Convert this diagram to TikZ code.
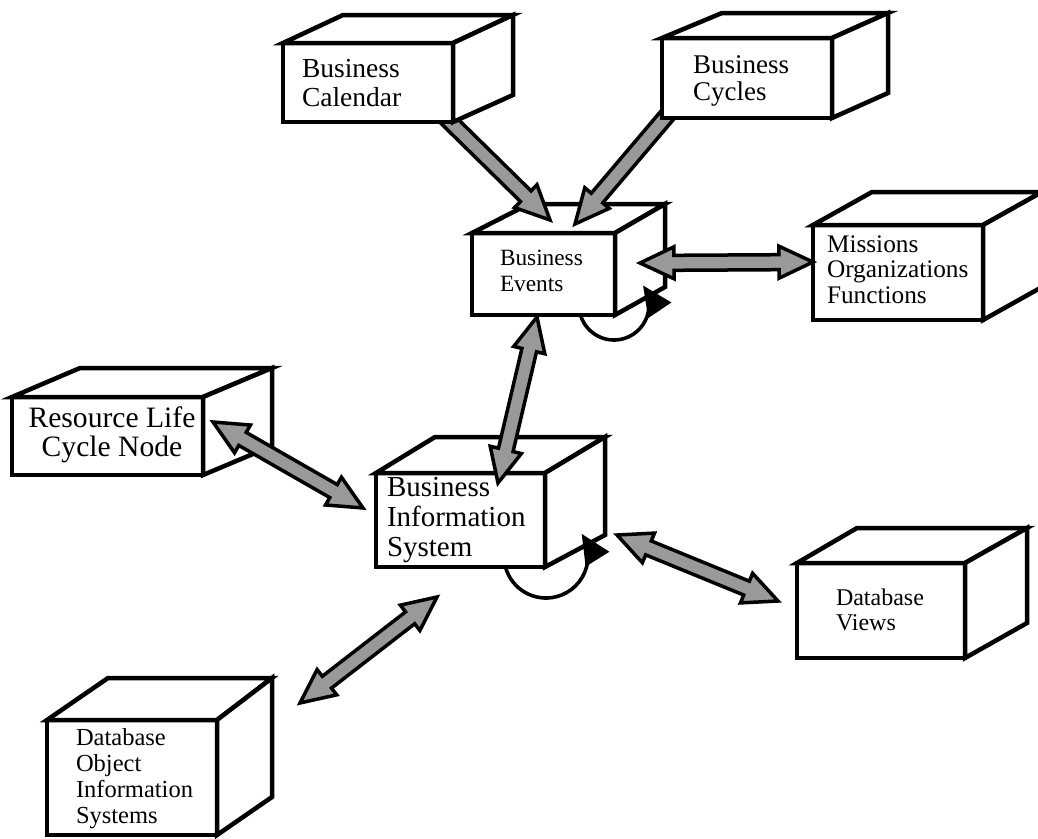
\documentclass[tikz,border=0pt]{standalone}
\usepackage{fontspec}
\setmainfont{Liberation Serif}
\usetikzlibrary{arrows.meta}

\tikzset{
  cubeline/.style={draw=black, fill=white, line width=4.5pt, line join=miter},
  cubefront/.style={cubeline, rectangle, inner sep=0pt, outer sep=0pt},
  fatarrow/.style={draw=black, fill=black!40, line width=3.5pt, line join=miter},
  loopline/.style={line width=3.6pt, -{Triangle[length=30pt,width=27pt]}},
  lbl/.style={inner sep=0pt, outer sep=0pt, anchor=north west, align=left},
}

% 3-D box: name, front top-left (x,y), front bottom-right (x,y),
% back top-left x, back top y, back right x, back bottom y (y measured downwards)
\newcommand{\cube}[9]{%
  \node[cubefront, minimum width={#4pt-#2pt}, minimum height={#5pt-#3pt}]
    (#1) at ({(#2+#4)/2},{-(#3+#5)/2}) {};
  \draw[cubeline] (#1.north west) -- (#6,-#7) -- (#8,-#7) -- (#1.north east) -- cycle;
  \draw[cubeline] (#1.north east) -- (#8,-#7) -- (#8,-#9) -- (#1.south east) -- cycle;
}

% block-arrow geometry: head length, head half width, shaft half width
\def\fhl{34}
\def\fhw{16}
\def\fsw{7.5}

\newcommand{\fatdir}[2]{%
  \path (#1); \pgfgetlastxy{\fax}{\fay}%
  \path (#2); \pgfgetlastxy{\fbx}{\fby}%
  \pgfmathsetmacro{\fang}{atan2(\fby-\fay,\fbx-\fax)}%
  \pgfmathsetmacro{\flen}{veclen(\fbx-\fax,\fby-\fay)}%
}

% double-headed block arrow between two named coordinates
\newcommand{\fatdouble}[2]{%
  \fatdir{#1}{#2}%
  \draw[fatarrow, shift={(#1)}, rotate=\fang]
    (0,0) -- (\fhl,\fhw) -- (\fhl,\fsw) -- ({\flen-\fhl},\fsw) -- ({\flen-\fhl},\fhw)
    -- (\flen,0) -- ({\flen-\fhl},-\fhw) -- ({\flen-\fhl},-\fsw) -- (\fhl,-\fsw)
    -- (\fhl,-\fhw) -- cycle;
}

% single-headed block arrow, head at the second coordinate
\newcommand{\fatsingle}[2]{%
  \fatdir{#1}{#2}%
  \draw[fatarrow, shift={(#1)}, rotate=\fang]
    (0,\fsw) -- ({\flen-\fhl},\fsw) -- ({\flen-\fhl},\fhw) -- (\flen,0)
    -- ({\flen-\fhl},-\fhw) -- ({\flen-\fhl},-\fsw) -- (0,-\fsw) -- cycle;
}

\begin{document}
\begin{tikzpicture}[x=1pt,y=1pt]
\useasboundingbox (0,0) rectangle (1038,-838);

% boxes
\cube{evt}{472}{233}{615}{315}{529}{204}{665}{287}
\cube{mof}{813}{225}{983}{320}{872}{192}{1042}{287}
\cube{rlc}{12}{397}{203}{475}{80}{368}{272}{446}
\cube{bis}{376}{473}{545}{567}{435}{437}{605}{535}
\cube{dbv}{797}{563}{965}{658}{857}{528}{1027}{623}
\cube{dbo}{47}{720}{217}{835}{108}{678}{272}{797}

% arrow end points
\coordinate (a1s) at (440,-112);  \coordinate (a1e) at (550,-220);
\coordinate (a2s) at (670,-112);  \coordinate (a2e) at (575,-224);
\coordinate (a3s) at (640,-263);  \coordinate (a3e) at (813,-262);
\coordinate (a4s) at (537,-317);  \coordinate (a4e) at (498,-483);
\coordinate (a5s) at (213,-422);  \coordinate (a5e) at (363,-508);
\coordinate (a6s) at (617,-535);  \coordinate (a6e) at (778,-601);
\coordinate (a7s) at (437,-597);  \coordinate (a7e) at (300,-703);

\fatsingle{a1s}{a1e}
\fatsingle{a2s}{a2e}
\fatdouble{a3s}{a3e}
\fatdouble{a4s}{a4e}
\fatdouble{a5s}{a5e}
\fatdouble{a6s}{a6e}
\fatdouble{a7s}{a7e}

% upper boxes drawn last so they cover the arrow tails
\cube{cal}{283}{43}{453}{122}{343}{15}{513}{95}
\cube{cyc}{662}{38}{832}{118}{722}{13}{888}{93}

% self loops
\coordinate (evtloop) at (614,-305);
\coordinate (bisloop) at (546,-556);
\draw[loopline] (evtloop) ++(198:35pt) arc[start angle=198, end angle=394, radius=35pt];
\draw[loopline] (bisloop) ++(195:42pt) arc[start angle=195, end angle=392, radius=42pt];

% labels
\node[lbl, font=\fontsize{27.5}{29}\selectfont] (tcal) at (302,-59.3) {Business\\Calendar};
\node[lbl, font=\fontsize{27}{27}\selectfont] (tcyc) at (693,-55.6) {Business\\Cycles};
\node[lbl, font=\fontsize{23.3}{25.7}\selectfont] (tevt) at (500,-250) {Business\\Events};
\node[lbl, font=\fontsize{25.3}{25.7}\selectfont] (tmof) at (827,-235.5) {Missions\\Organizations\\Functions};
\node[lbl, anchor=north, align=center, font=\fontsize{29.6}{29.3}\selectfont] (trlc) at (112,-406.6) {Resource Life\\Cycle Node};
\node[lbl, font=\fontsize{29}{30}\selectfont] (tbis) at (387,-477) {Business\\Information\\System};
\node[lbl, font=\fontsize{24}{25}\selectfont] (tdbv) at (836,-588.7) {Database\\Views};
\node[lbl, font=\fontsize{24.5}{26}\selectfont] (tdbo) at (76,-728) {Database\\Object\\Information\\Systems};
\end{tikzpicture}
\end{document}
